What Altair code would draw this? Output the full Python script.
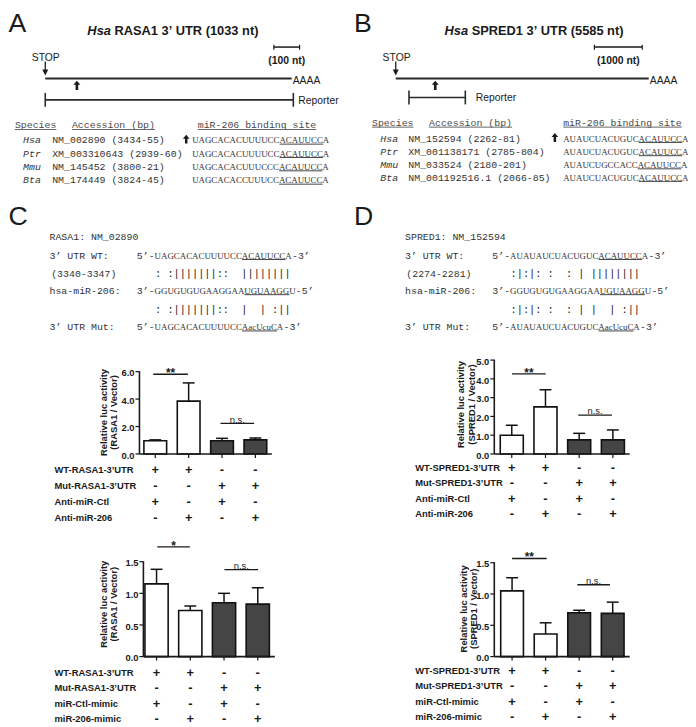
import altair as alt
import pandas as pd

# ---------------- data ----------------
A_species = ["Hsa", "Ptr", "Mmu", "Bta"]
A_access = ["NM_002890 (3434-55)", "XM_003310643 (2939-60)", "NM_145452 (3800-21)", "NM_174449 (3824-45)"]
A_seq = ["UAGCACACUUUUCCACAUUCCA", "UAGCACACUUUUCCACAUUCCA", "UAGCACACUUUCCCACAUUCCA", "UAGCACACCUUUCCACAUUCCA"]
B_species = ["Hsa", "Ptr", "Mmu", "Bta"]
B_access = ["NM_152594 (2262-81)", "XM_001138171 (2785-804)", "NM_033524 (2180-201)", "NM_001192516.1 (2066-85)"]
B_seq = ["AUAUCUACUGUCACAUUCCA", "AUAUCUACUGUCACAUUCCA", "AUAUCUGCCACCACAUUCCA", "AUAUCUACUGUCACAUUCCA"]

C_wt = "UAGCACACUUUUCCACAUUCCA"
C_mut = "UAGCACACUUUUCCAacUcuCA"
D_wt = "AUAUAUCUACUGUCACAUUCCA"
D_mut = "AUAUAUCUACUGUCAacUcuCA"
MIR = "GGUGUGUGAAGGAAUGUAAGGU"
C_pair_wt = ": :|||||||::  ||||||||"
C_pair_mut = ": :|||||||::  |  | :||"
D_pair_wt = " :|:|: :  : | ||||||||"
D_pair_mut = " :|:|: :  : | |  | :||"

conds = ["1", "2", "3", "4"]
fills = ["white", "white", "#454545", "#454545"]
C1_mean = [0.97, 3.85, 0.97, 1.03]
C1_err = [0.06, 1.33, 0.17, 0.14]
C2_mean = [1.15, 0.73, 0.85, 0.83]
C2_err = [0.23, 0.07, 0.15, 0.26]
D1_mean = [1.00, 2.51, 0.75, 0.75]
D1_err = [0.53, 0.91, 0.35, 0.53]
D2_mean = [1.05, 0.36, 0.70, 0.69]
D2_err = [0.21, 0.18, 0.04, 0.18]

row_wt = ["+", "+", "-", "-"]
row_mut = ["-", "-", "+", "+"]
row_ctl = ["+", "-", "+", "-"]
row_206 = ["-", "+", "-", "+"]

# ---------------- helpers ----------------
W, H = 688, 719
OFF = 8
DY = 1.8  # middle-baseline correction
SANS = "Liberation Sans"
MONO = "Liberation Mono"
SERIF = "Liberation Serif"
INK = "#1a1a1a"
GREY = "#333333"
NB = "\u00a0"

layers = []


def P(v):
    return v - OFF


def txt(s, x, y, size=10, font=SANS, weight="normal", style="normal", align="left",
        color=INK, angle=0, baseline="middle", shift=True):
    kw = dict(font=font, fontSize=size, fontWeight=weight, fontStyle=style,
              align=align, baseline=baseline, color=color)
    if angle:
        kw["angle"] = angle
    yy = y + DY if (baseline == "middle" and shift) else y
    layers.append(alt.Chart(pd.DataFrame({"t": [s.replace(" ", NB)]})).mark_text(**kw).encode(
        text="t:N", x=alt.value(P(x)), y=alt.value(P(yy))))


def line(x1, y1, x2, y2, w=1.5, color=INK):
    layers.append(alt.Chart(pd.DataFrame({"t": [0]})).mark_rule(strokeWidth=w, color=color).encode(
        x=alt.value(P(x1)), y=alt.value(P(y1)), x2=alt.value(P(x2)), y2=alt.value(P(y2))))


UP_ARROW = "M0,-1L0.75,-0.1L0.28,-0.1L0.28,1L-0.28,1L-0.28,-0.1L-0.75,-0.1Z"
DOWN_HEAD = "M-1,-1L1,-1L0,1Z"


def shape(path, x, y, size, color=INK):
    layers.append(alt.Chart(pd.DataFrame({"t": [0]})).mark_point(
        shape=path, filled=True, size=size, color=color, opacity=1, strokeWidth=0).encode(
        x=alt.value(P(x)), y=alt.value(P(y))))


TW = {"U": .722, "A": .722, "G": .722, "C": .667, "a": .444, "c": .444, "u": .5}


def sw(s, size=9):
    return sum(TW[c] for c in s) * size


def letter(ch, base_y):
    txt(ch, 8.6 if ch in "AC" else 358, base_y, size=27, baseline="alphabetic")


# ---------------- panels A / B ----------------
def gene_panel(title_rest, tx, scale_x1, scale_x2, scale_lbl, stop_x, arr_x,
               line_x2, up_x, rep_x1, rep_x2, rep_y, rep_lbl_x, hdr_y, hdr_x, rows_y,
               sp_x, acc_x, seq_x, arrow_x, species, access, seqs, ul_from, ul_to):
    txt("Hsa", tx, 25, size=13, weight="bold", style="italic")
    txt(title_rest, tx + 27.4, 25, size=13, weight="bold")
    line(scale_x1, 43.3, scale_x2, 43.3, w=1.5)
    line(scale_x1, 41, scale_x1, 46, w=1.2)
    line(scale_x2, 41, scale_x2, 46, w=1.2)
    txt(scale_lbl, (scale_x1 + scale_x2) / 2, 55.5, size=10.5, weight="bold", align="center")
    txt("STOP", stop_x, 52.5, size=10.5)
    line(arr_x, 58, arr_x, 67, w=1.3)
    shape(DOWN_HEAD, arr_x, 69, 36)
    line(arr_x, 75, line_x2, 75, w=2, color="#2a2a2a")
    txt("AAAA", line_x2 + 1, 75.5, size=10.5)
    shape(UP_ARROW, up_x, 82, 90)
    line(rep_x1, rep_y, rep_x2, rep_y, w=1.6, color="#2a2a2a")
    line(rep_x1, rep_y - 7, rep_x1, rep_y + 7, w=1.6, color="#2a2a2a")
    line(rep_x2, rep_y - 7, rep_x2, rep_y + 7, w=1.6, color="#2a2a2a")
    txt("Reporter", rep_lbl_x, rep_y - 1, size=10.5)
    for h, hx in zip(["Species", "Accession (bp)", "miR-206 binding site"], hdr_x):
        txt(h, hx, hdr_y, size=10, font=MONO, color="#4a4a4a")
        line(hx, hdr_y + 6, hx + 6 * len(h), hdr_y + 6, w=1, color="#666666")
    for i, ry in enumerate(rows_y):
        txt(species[i], sp_x, ry, size=10, font=MONO, style="italic", color=GREY)
        txt(access[i], acc_x, ry, size=10, font=MONO, color=GREY)
        txt(seqs[i], seq_x, ry, size=9, font=SERIF, color=GREY)
        s = seqs[i]
        line(seq_x + sw(s[:ul_from]), ry + 5.5, seq_x + sw(s[:ul_to]), ry + 5.5, w=1, color="#444444")
    shape(UP_ARROW, arrow_x, rows_y[0] + 0.5, 80)


letter("A", 28)
letter("B", 28)
gene_panel("RASA1 3\u2019 UTR (1033 nt)", 88.3, 277, 303, "(100 nt)", 32, 45.7,
           295, 77.7, 45.7, 296.7, 96.7, 301.7, 120.7, [15, 72.7, 200],
           [136, 149.5, 163, 176.5], 23.3, 52.7, 194.3, 188.3,
           A_species, A_access, A_seq, 14, 21)
gene_panel("SPRED1 3\u2019 UTR (5585 nt)", 449.7, 601.3, 649.7, "(1000 nt)", 387, 400.3,
           656.3, 440.3, 413.7, 470.7, 94.3, 481.3, 118.3, [376.3, 434, 569.7],
           [134.3, 147.7, 161, 173.7], 384.7, 413, 569.7, 561.3,
           B_species, B_access, B_seq, 12, 19)


# ---------------- panels C / D sequences ----------------
def seq_panel(head, lab_x, num_lab, num_x, pre_x, wt, mut, pair_wt, pair_mut):
    rows = [233.3, 252.7, 270.7, 288.3, 307.3, 325]
    txt(head, lab_x, rows[0], size=10, font=MONO, color=GREY)
    seq_x = pre_x + 18
    entries = [("3\u2019 UTR WT:", "5\u2019-", wt, "-3\u2019", rows[1]),
               ("hsa-miR-206:", "3\u2019-", MIR, "-5\u2019", rows[3]),
               ("3\u2019 UTR Mut:", "5\u2019-", mut, "-3\u2019", rows[5])]
    for lab, pre, s, post, ry in entries:
        txt(lab, lab_x, ry, size=10, font=MONO, color=GREY)
        txt(pre, pre_x, ry, size=10, font=MONO, color=GREY)
        txt(s, seq_x, ry, size=9, font=SERIF, color=GREY)
        txt(post, seq_x + sw(s), ry, size=10, font=MONO, color=GREY)
        line(seq_x + sw(s[:14]), ry + 5.5, seq_x + sw(s[:21]), ry + 5.5, w=1, color="#444444")
    txt(num_lab, num_x, rows[2], size=10, font=MONO, color=GREY)
    # tiny rotation forces greyscale antialiasing of the thin pairing glyphs
    txt(pair_wt, seq_x + 0.5, rows[2], size=10.4, font=MONO, color="#222222", angle=0.01)
    txt(pair_mut, seq_x + 0.5, rows[4], size=10.4, font=MONO, color="#222222", angle=0.01)


letter("C", 223)
letter("D", 223)
seq_panel("RASA1: NM_02890", 50, "(3340-3347)", 51.7, 138.3, C_wt, C_mut, C_pair_wt, C_pair_mut)
seq_panel("SPRED1: NM_152594", 409.7, "(2274-2281)", 411, 498, D_wt, D_mut, D_pair_wt, D_pair_mut)


# ---------------- bar charts ----------------
def barchart(means, errs, ax, y0, ytop, ymax, yticks, centers, bar_w, x_end,
             title2, tx1, ty, row_labels, lab_x, rows_y, sig1, sig2):
    step = (centers[-1] - centers[0]) / 3
    pi = 1 - bar_w / step
    xs = alt.Scale(domain=conds, range=[P(centers[0] - step / 2), P(centers[-1] + step / 2)],
                   paddingInner=pi, paddingOuter=pi / 2)
    ys = alt.Scale(domain=[0, ymax], range=[P(y0), P(ytop)], nice=False, zero=False)
    df = pd.DataFrame({"cat": conds, "mean": means,
                       "top": [m + e for m, e in zip(means, errs)], "fill": fills})
    xe = alt.X("cat:N", scale=xs, axis=None)
    bars = alt.Chart(df).mark_bar(stroke="#111111", strokeWidth=1.6).encode(
        x=xe, y=alt.Y("mean:Q", scale=ys, axis=None), color=alt.Color("fill:N", scale=None))
    err = alt.Chart(df).mark_rule(color="#111111", strokeWidth=1.5).encode(
        x=xe, y=alt.Y("mean:Q", scale=ys, axis=None), y2="top:Q")
    cap = alt.Chart(df).mark_tick(color="#111111", thickness=1.5, size=12, opacity=1).encode(
        x=xe, y=alt.Y("top:Q", scale=ys, axis=None))
    xt = alt.Chart(df).mark_rule(color="#111111", strokeWidth=1.2).encode(
        x=xe, y=alt.value(P(y0)), y2=alt.value(P(y0 + 4)))
    tdf = pd.DataFrame({"v": yticks})
    ylab = alt.Chart(tdf).mark_text(align="right", baseline="middle", font=SANS, fontSize=9.5,
                                    fontWeight="bold", color=INK, dy=DY).encode(
        x=alt.value(P(ax - 5)), y=alt.Y("v:Q", scale=ys, axis=None), text=alt.Text("v:Q", format=".1f"))
    ytk = alt.Chart(tdf).mark_rule(color="#111111", strokeWidth=1.2).encode(
        x=alt.value(P(ax - 4)), x2=alt.value(P(ax)), y=alt.Y("v:Q", scale=ys, axis=None))
    sub = [bars, err, cap, xt, ylab, ytk]
    for r_y, signs in zip(rows_y, [row_wt, row_mut, row_ctl, row_206]):
        sdf = pd.DataFrame({"cat": conds, "s": signs})
        sub.append(alt.Chart(sdf).mark_text(font=SANS, fontSize=13, fontWeight="bold",
                                            baseline="middle", color=INK).encode(
            x=xe, y=alt.value(P(r_y + DY)), text="s:N"))
    chart = alt.layer(*sub)
    line(ax, y0, ax, ytop - 0.5, w=1.6)
    line(ax, y0, x_end, y0, w=1.6)
    txt("Relative luc activity", tx1, ty, size=9.5, weight="bold", align="center", angle=270, shift=False)
    txt(title2, tx1 + 10.5, ty, size=9.5, weight="bold", align="center", angle=270, shift=False)
    for lab, r_y in zip(row_labels, rows_y):
        txt(lab, lab_x, r_y, size=9.5, weight="bold")
    for (lbl, xa, xb, ly, big) in [sig1, sig2]:
        line(xa, ly, xb, ly, w=1.4)
        if big:
            txt(lbl, (xa + xb) / 2, ly - 3, size=12, weight="bold", align="center")
        else:
            txt(lbl, (xa + xb) / 2, ly - 5.5, size=9.5, align="center")
    return chart


c1 = barchart(C1_mean, C1_err, 141, 455, 371.7, 6, [0, 2, 4, 6], [157, 190.5, 224.7, 258.3], 23, 275,
              "(RASA1 / Vector)", 105, 413,
              ["WT-RASA1-3\u2019UTR", "Mut-RASA1-3\u2019UTR", "Anti-miR-Ctl", "Anti-miR-206"], 55,
              [469.3, 485.7, 502.3, 517.7],
              ("**", 155, 190, 374.3, True), ("n.s.", 223, 257, 424, False))
c2 = barchart(C2_mean, C2_err, 145, 660, 564, 1.5, [0, 0.5, 1.0, 1.5], [158.3, 192.5, 227, 260.7], 23.5, 278,
              "(RASA1 / Vector)", 105, 607,
              ["WT-RASA1-3\u2019UTR", "Mut-RASA1-3\u2019UTR", "miR-Ctl-mimic", "miR-206-mimic"], 55,
              [675, 690.3, 706, 721.5],
              ("*", 159, 192, 549, True), ("n.s.", 227, 261, 572, False))
d1 = barchart(D1_mean, D1_err, 500, 455, 360, 5, [0, 1, 2, 3, 4, 5], [517.7, 551.7, 585.7, 620], 23.3, 637,
              "(SPRED1 / Vector)", 466.7, 405,
              ["WT-SPRED1-3\u2019UTR", "Mut-SPRED1-3\u2019UTR", "Anti-miR-Ctl", "Anti-miR-206"], 420,
              [467.3, 482.7, 498.3, 514.3],
              ("**", 518, 552, 374, True), ("n.s.", 585, 619, 415.7, False))
d2 = barchart(D2_mean, D2_err, 500, 660, 565, 1.5, [0, 0.5, 1.0, 1.5], [518, 551.3, 585.8, 619.8], 23, 637,
              "(SPRED1 / Vector)", 469, 611.7,
              ["WT-SPRED1-3\u2019UTR", "Mut-SPRED1-3\u2019UTR", "miR-Ctl-mimic", "miR-206-mimic"], 420,
              [672.7, 688.3, 703.7, 719],
              ("**", 518, 553, 560.7, True), ("n.s.", 584, 617, 587.3, False))

chart = alt.layer(c1, c2, d1, d2, *layers).resolve_scale(
    x="independent", y="independent", color="independent"
).properties(
    width=W, height=H, autosize=alt.AutoSizeParams(type="none"), padding=0,
    background="white"
).configure_view(stroke=None)

chart.save("out.html", embed_options={"renderer": "svg", "actions": False})
